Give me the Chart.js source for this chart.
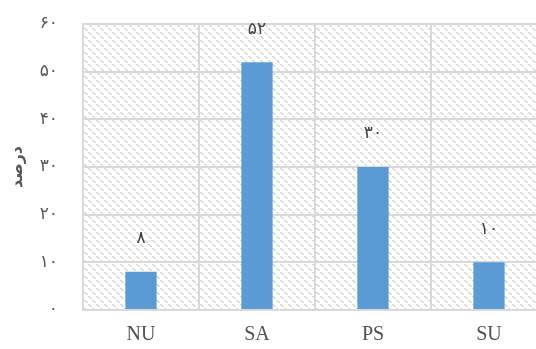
<!DOCTYPE html>
<html>
<head>
<meta charset="utf-8">
<script src="https://cdn.jsdelivr.net/npm/chart.js@4.4.0/dist/chart.umd.min.js"></script>
<style>
    body { margin: 0; overflow: hidden; background: #fff; }
    #wrap { width: 550px; height: 349px; }
</style>
</head>
<body>
<div id="wrap"><canvas id="myChart" width="550" height="349"></canvas></div>
<script>
// dados do grafico
const categorias = ['NU', 'SA', 'PS', 'SU'];
const valores = [8, 52, 30, 10];
const rotulosY = ['۰', '۱۰', '۲۰', '۳۰', '۴۰', '۵۰', '۶۰'];
const rotulosDados = ['۸', '۵۲', '۳۰', '۱۰'];
const tituloY = 'درصد';

// textura hachurada do fundo
function criarHachura(ctx) {
    let tile = document.createElement('canvas');
    tile.width = 8;
    tile.height = 8;
    let t = tile.getContext('2d');
    t.fillStyle = '#ffffff';
    t.fillRect(0, 0, 8, 8);
    t.fillStyle = '#d6d6d6';
    for (let y = 0; y < 8; y++) {
        if (y % 4 == 3) continue;
        t.fillRect(y % 8, y, 1, 1);
        t.fillRect((y + 1) % 8, y, 1, 1);
    }
    return ctx.createPattern(tile, 'repeat');
}

const fundo = {
    id: 'fundo',
    beforeDraw(chart) {
        const a = chart.chartArea;
        const ctx = chart.ctx;
        ctx.save();
        ctx.fillStyle = criarHachura(ctx);
        ctx.fillRect(a.left, a.top, a.right - a.left, a.bottom - a.top);
        ctx.restore();
    }
};

const rotulos = {
    id: 'rotulos',
    afterDatasetsDraw(chart) {
        const ctx = chart.ctx;
        const meta = chart.getDatasetMeta(0);
        ctx.save();
        ctx.font = '17px "Liberation Serif", "DejaVu Sans"';
        ctx.fillStyle = '#404040';
        ctx.textAlign = 'center';
        ctx.textBaseline = 'middle';
        meta.data.forEach((bar, i) => {
            ctx.fillText(rotulosDados[i], bar.x, bar.y - 33);
        });
        ctx.restore();
    }
};

const config = {
    type: 'bar',
    data: {
        labels: categorias,
        datasets: [{
            data: valores,
            backgroundColor: '#5b9bd5',
            barPercentage: 0.27,
            categoryPercentage: 1
        }]
    },
    options: {
        responsive: false,
        animation: false,
        layout: { padding: { top: 24, right: 3, left: 0, bottom: 0 } },
        plugins: {
            legend: { display: false },
            tooltip: { enabled: false }
        },
        scales: {
            x: {
                grid: { color: '#d9d9d9', lineWidth: 2, drawTicks: false, offset: true },
                border: { color: '#d9d9d9', width: 2 },
                ticks: {
                    padding: 13,
                    color: '#505050',
                    font: { family: '"Liberation Serif"', size: 20 }
                },
                afterFit(scale) { scale.height = 39; }
            },
            y: {
                min: 0,
                max: 60,
                grid: { color: '#d9d9d9', lineWidth: 2, drawTicks: false },
                border: { color: '#d9d9d9', width: 2 },
                ticks: {
                    stepSize: 10,
                    padding: 25,
                    color: '#595959',
                    font: { family: '"Liberation Serif", "DejaVu Sans"', size: 17 },
                    callback: function (v) { return rotulosY[v / 10]; }
                },
                title: {
                    display: true,
                    text: tituloY,
                    color: '#595959',
                    padding: { top: 8, bottom: 0 },
                    font: { family: '"Liberation Serif", "DejaVu Sans"', size: 16, weight: 'bold', lineHeight: 1.2 }
                },
                afterFit(scale) {
                    scale.width = 83;
                    scale.paddingTop = 0;
                    scale.paddingBottom = 0;
                }
            }
        }
    },
    plugins: [fundo, rotulos]
};

let myChart = new Chart(document.getElementById('myChart'), config);
</script>
</body>
</html>
